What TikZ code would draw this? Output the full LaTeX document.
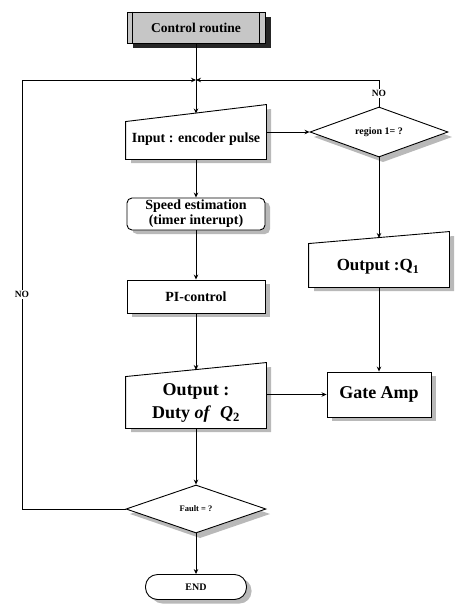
\documentclass[tikz,border=0pt]{standalone}
\usepackage{fontspec}
\setmainfont{Liberation Serif}
\usetikzlibrary{arrows.meta,shapes.geometric,calc}
\begin{document}
\begin{tikzpicture}[x=1pt,y=-1pt,line width=0.9pt,
  arr/.style={-{Stealth[length=5pt,width=4.5pt]}},
  shadowfill/.style={fill=gray!55,draw=none},
  boxfont/.style={font=\fontsize{14}{15}\selectfont\bfseries},
  bigfont/.style={font=\fontsize{18}{23}\selectfont\bfseries},
  smallfont/.style={font=\fontsize{10}{12}\selectfont\bfseries},
  nolab/.style={fill=white,inner sep=1.5pt,font=\fontsize{9.5}{11}\selectfont\bfseries},
  plainbox/.style={draw,fill=white,inner sep=0pt},
  dec/.style={diamond,draw,fill=white,inner sep=0pt}]
\useasboundingbox (0,0) rectangle (456,608);

% ---- shadows (drawn first, underneath) ----
\fill[black!85] (133,17) rectangle (271,48);
\begin{scope}[shift={(5,4)}]
  \fill[shadowfill] (126,159) -- (266,159) -- (266,105) -- (126,122) -- cycle;
  \fill[shadowfill] (126,428) -- (266,428) -- (266,363) -- (126,377) -- cycle;
  \fill[shadowfill] (309,287) -- (449,287) -- (449,232) -- (309,244) -- cycle;
  \fill[shadowfill,rounded corners=5pt] (127,198) rectangle (265,230);
  \fill[shadowfill] (127,280) rectangle (265,313);
  \fill[shadowfill] (327,372) rectangle (431,417);
  \fill[shadowfill,rounded corners=12pt] (145.5,574.5) rectangle (246.5,599.5);
\end{scope}
\begin{scope}[shift={(4,5)}]
  \fill[shadowfill] (379,107) -- (448,132) -- (379,157) -- (310,132) -- cycle;
  \fill[shadowfill] (196,485) -- (266,509) -- (196,533) -- (126,509) -- cycle;
\end{scope}

% Control routine
\node[draw,fill=gray!45,inner sep=0pt,minimum width=138pt,minimum height=31pt,
  font=\fontsize{13.5}{15}\selectfont\bfseries] (ctrl) at (196,27.5) {Control routine};
\draw ([xshift=6pt]ctrl.north west) -- ([xshift=6pt]ctrl.south west);
\draw ([xshift=-6pt]ctrl.north east) -- ([xshift=-6pt]ctrl.south east);

% Input (manual input shape)
\node[inner sep=0pt,minimum width=140pt,minimum height=54pt] (input) at (196,132) {};
\path[draw,fill=white] (input.south west) -- (input.south east) -- (input.north east)
  -- ([yshift=-17pt]input.north west) -- cycle;
\node[boxfont] (inputtext) at (196,139) {Input : encoder pulse};

% Speed estimation
\node[plainbox,rounded corners=5pt,minimum width=138pt,minimum height=32pt,align=center,boxfont]
  (speed) at (196,214) {Speed estimation\\(timer interupt)};

% PI-control
\node[plainbox,minimum width=138pt,minimum height=33pt,boxfont] (pi) at (196,296.5) {PI-control};

% Output duty (manual input shape)
\node[inner sep=0pt,minimum width=140pt,minimum height=65pt] (duty) at (196,395.5) {};
\path[draw,fill=white] (duty.south west) -- (duty.south east) -- (duty.north east)
  -- ([yshift=-14pt]duty.north west) -- cycle;
\node[bigfont,align=center] (dutytext) at (196,403) {Output :\\Duty \textit{of}\ \ \textit{Q}\textsubscript{2}};

% Fault decision
\node[dec,shape aspect=2.9,minimum width=140pt,minimum height=48pt,
  font=\fontsize{8.5}{10}\selectfont\bfseries] (fault) at (196,509) {Fault = ?};

% END
\node[plainbox,rounded corners=12pt,minimum width=101pt,minimum height=25pt,
  font=\fontsize{10}{12}\selectfont\bfseries] (end) at (196,587) {END};

% region decision
\node[dec,shape aspect=2.76,minimum width=138pt,minimum height=50pt,smallfont] (region) at (379,132) {region 1= ?};

% Output Q1 (manual input shape)
\node[inner sep=0pt,minimum width=140pt,minimum height=55pt] (q1) at (379,259.5) {};
\path[draw,fill=white] (q1.south west) -- (q1.south east) -- (q1.north east)
  -- ([yshift=-12pt]q1.north west) -- cycle;
\node[font=\fontsize{17}{20}\selectfont\bfseries] (q1text) at (378,267) {Output :Q\textsubscript{1}};

% Gate Amp
\node[plainbox,minimum width=104pt,minimum height=45pt,font=\fontsize{18}{20}\selectfont\bfseries]
  (gate) at (379,394.5) {Gate Amp};

% coordinates
\coordinate (J) at (196,80);
\coordinate (rtop) at (379,80);
\coordinate (ltop) at (22,80);
\coordinate (lbot) at (22,509);
\coordinate (inputtop) at (196,113.5);
\coordinate (q1top) at (379,238);
\coordinate (dutytop) at (196,370);

% connectors
\draw (ctrl.south) -- (J);
\draw[arr] (J) -- (inputtop);
\draw[arr] (input.east) -- (region.west);
\draw[arr] (region.north) -- node[nolab]{NO} (rtop) -- (J);
\draw[arr] (region.south) -- (q1top);
\draw[arr] (q1.south) -- (gate.north);
\draw[arr] (input.south) -- (speed.north);
\draw[arr] (speed.south) -- (pi.north);
\draw[arr] (pi.south) -- (dutytop);
\draw[arr] (gate.west -| duty.east) -- (gate.west);
\draw[arr] (duty.south) -- (fault.north);
\draw[arr] (fault.south) -- (end.north);
\draw[arr] (fault.west) -- (lbot) -- node[nolab]{NO} (ltop) -- (J);
\end{tikzpicture}
\end{document}
